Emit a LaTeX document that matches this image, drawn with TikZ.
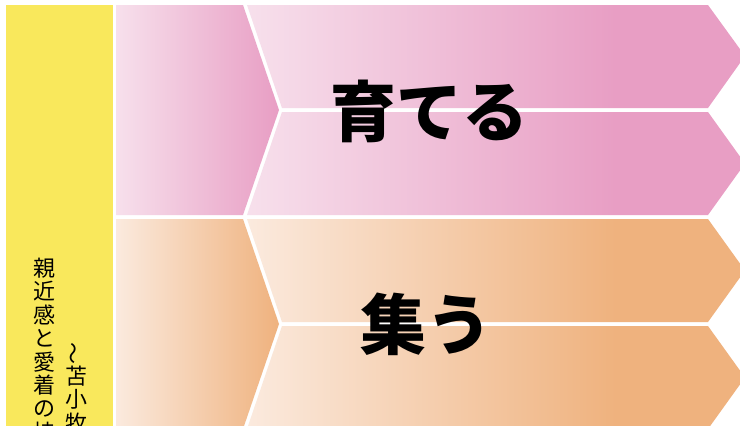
\documentclass[tikz,border=0pt]{standalone}
\usepackage{fontspec}
\usepackage{xcolor}
\usepackage{tikz}
\newfontfamily\jpfont{Noto Sans CJK JP}

\definecolor{barYellow}{RGB}{249,232,92}
\definecolor{pinkDark}{RGB}{232,158,196}
\definecolor{pinkLight}{RGB}{247,224,236}
\definecolor{orangeDark}{RGB}{239,178,126}
\definecolor{orangeLight}{RGB}{251,234,222}

% horizontal shadings for the arrows
\pgfdeclarehorizontalshading{pinkramp}{100bp}{color(0bp)=(pinkLight); color(25bp)=(pinkLight); color(62bp)=(pinkDark); color(100bp)=(pinkDark)}
\pgfdeclarehorizontalshading{orangeramp}{100bp}{color(0bp)=(orangeLight); color(25bp)=(orangeLight); color(62bp)=(orangeDark); color(100bp)=(orangeDark)}

\begin{document}
\begin{tikzpicture}[x=1pt,y=-1pt,
		pinkfill/.style={left color=pinkLight, right color=pinkDark},
		orangefill/.style={left color=orangeLight, right color=orangeDark},
		pinkarrow/.style={shading=pinkramp},
		orangearrow/.style={shading=orangeramp},
		bigword/.style={font=\jpfont\bfseries\fontsize{66}{66}\selectfont, inner sep=0pt},
		vchar/.style={font=\jpfont\fontsize{22}{22}\selectfont, inner sep=0pt}]
		% Frame
		\clip (0,0) rectangle (740,426);
		\fill[white] (0,0) rectangle (740,426);

		% Yellow bar
		\fill[barYellow] (6,5) rectangle (113,440);

		% Pink rows
		\shade[pinkfill] (116,5) -- (243,5) -- (279,110) -- (243,215) -- (116,215) -- cycle;
		\shade[pinkarrow] (247,5) -- (708,5) -- (745,56) -- (708,108) -- (282,108) -- cycle;
		\shade[pinkarrow] (282,112) -- (708,112) -- (745,163.5) -- (708,215) -- (247,215) -- cycle;

		% Orange rows
		\shade[orangefill] (116,219) -- (243,219) -- (279,324) -- (243,429) -- (116,429) -- cycle;
		\shade[orangearrow] (247,219) -- (708,219) -- (745,270.5) -- (708,322) -- (282,322) -- cycle;
		\shade[orangearrow] (282,326) -- (708,326) -- (745,377.5) -- (708,429) -- (247,429) -- cycle;

		% Row titles
		\node[bigword] (sodateru) at (429,111) {育てる};
		\node[bigword] (tsudou) at (426,324) {集う};

		% Vertical text in the bar
		\foreach \ch [count=\i] in {親,近,感,と,愛,着,の,持}
			\node[vchar] (colA-\i) at (45,{268+23.5*(\i-1)}) {\ch};
		\node[vchar, rotate=90] (colB-0) at (76,353) {～};
		\foreach \ch [count=\i] in {苫,小,牧}
			\node[vchar] (colB-\i) at (76,{376+23.5*(\i-1)}) {\ch};
	\end{tikzpicture}
\end{document}
